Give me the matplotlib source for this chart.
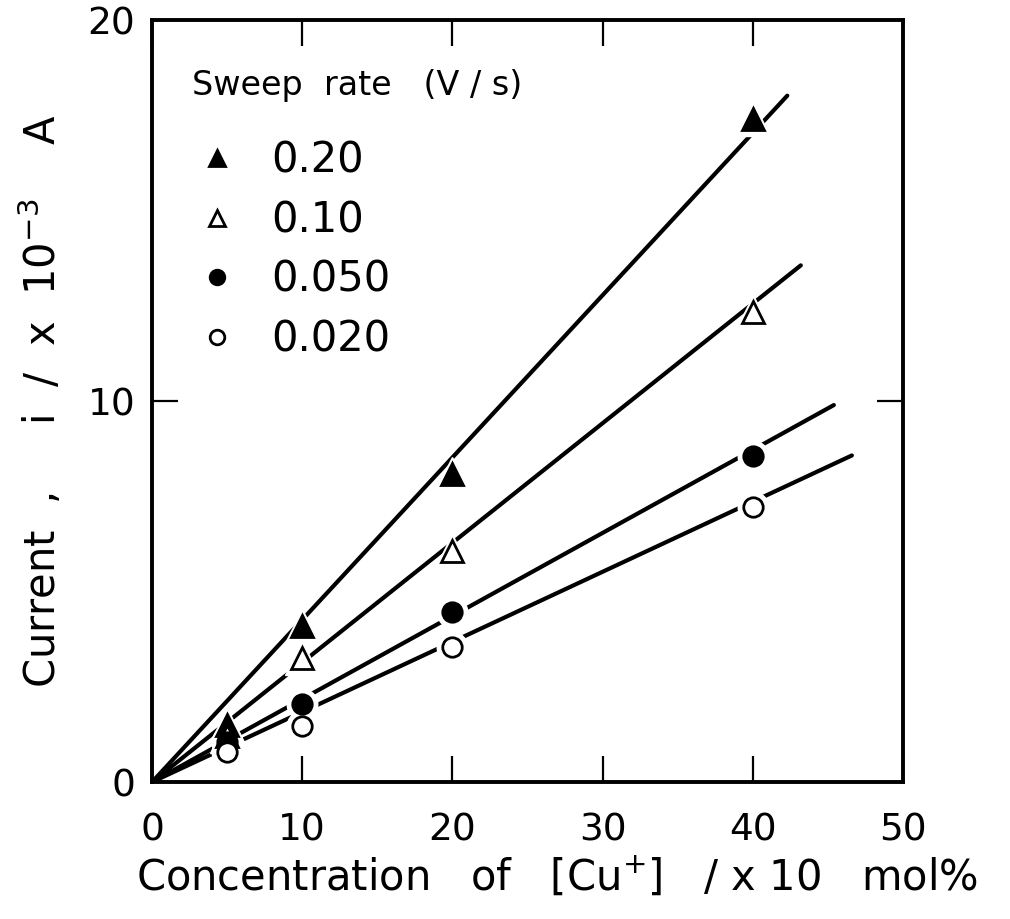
import numpy as np
import matplotlib.pyplot as plt

plt.rcParams['font.family'] = ['DejaVu Sans']
plt.rcParams['mathtext.fontset'] = 'dejavusans'

conc = [5, 10, 20, 40]
rates = ['0.20', '0.10', '0.050', '0.020']
current = {
    '0.20':  [1.51, 4.11, 8.08, 17.4],
    '0.10':  [1.22, 3.26, 6.06, 12.34],
    '0.050': [1.04, 2.06, 4.46, 8.56],
    '0.020': [0.78, 1.48, 3.54, 7.22],
}
fit_slope = [0.426, 0.314, 0.218, 0.184]
fit_end = [42.3, 43.2, 45.4, 46.6]

markers = ['^', '^', 'o', 'o']
filled = [True, False, True, False]
msize = [16, 16, 14, 14]

fig = plt.figure(figsize=(10.10, 9.19), dpi=100)
ax = fig.add_axes([0.1505, 0.149, 0.7435, 0.829])

for i, r in enumerate(rates):
    xs = np.array([0, fit_end[i]])
    ax.plot(xs, fit_slope[i] * xs, color='black', lw=3.0, zorder=2,
            solid_capstyle='round')
    # white halo so the fitted line breaks around each point
    ax.plot(conc, current[r], ls='none', marker=markers[i], ms=msize[i] + 8,
            mfc='white', mec='white', zorder=3)
    ax.plot(conc, current[r], ls='none', marker=markers[i], ms=msize[i],
            mfc='black' if filled[i] else 'white', mec='black', mew=2.0,
            zorder=4, label=r)

ax.set_xlim(0, 50)
ax.set_ylim(0, 20)
ax.set_xticks([0, 10, 20, 30, 40, 50])
ax.set_yticks([0, 10, 20])
ax.tick_params(direction='in', length=19, width=1.6, labelsize=27,
               top=True, right=True)
ax.tick_params(axis='x', pad=22)
ax.tick_params(axis='y', pad=12)
for s in ax.spines.values():
    s.set_linewidth(2.8)

ax.set_xlabel(r'Concentration   of   $\left[\mathrm{Cu}^{+}\right]$   / x 10   mol%',
              fontsize=30)
ax.xaxis.set_label_coords(0.54, -0.088)
ax.xaxis.label.set_verticalalignment('center')
ax.xaxis.set_label_coords(0.54, -0.125)
ax.set_ylabel(r'Current  ,     i  /  x  10$^{-3}$    A', fontsize=30, labelpad=16)

leg = ax.legend(loc='upper left', bbox_to_anchor=(0.003, 0.985), frameon=False,
                title='Sweep  rate   (V / s)', title_fontsize=24, fontsize=30,
                handletextpad=0.7, labelspacing=0.42, markerscale=0.75,
                handlelength=1.2)
leg._legend_box.align = 'left'
leg._legend_box.sep = 27

fig.savefig('out.png', dpi=100)
